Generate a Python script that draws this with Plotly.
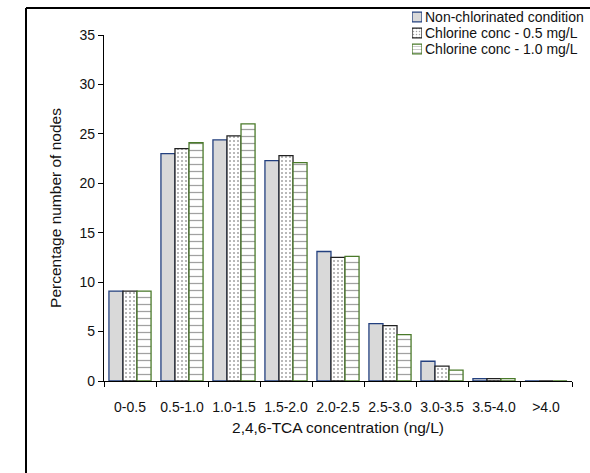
import plotly.graph_objects as go

categories = ["0-0.5", "0.5-1.0", "1.0-1.5", "1.5-2.0", "2.0-2.5", "2.5-3.0", "3.0-3.5", "3.5-4.0", ">4.0"]
non_chlorinated = [9.1, 23.0, 24.4, 22.3, 13.1, 5.8, 2.0, 0.25, 0.0]
chlorine_05 = [9.1, 23.5, 24.8, 22.8, 12.5, 5.6, 1.5, 0.25, 0.0]
chlorine_10 = [9.1, 24.1, 26.0, 22.1, 12.6, 4.7, 1.1, 0.25, 0.0]
series_names = ["Non-chlorinated condition", "Chlorine conc - 0.5 mg/L", "Chlorine conc - 1.0 mg/L"]

W, H = 590, 473
ML, MR, MT, MB = 104, 18, 8, 92
PW = W - ML - MR          # plot width (px)
PH = H - MT - MB          # plotting region height (px)
AXIS_TOP_PX = 35          # top of main y axis (px from top)

def px_x(x):
    return (x - ML) / PW

def px_y(y):
    return (H - MB - y) / PH

styles = [
    dict(color="#d9d9d9", line=dict(color="#23407f", width=1.3)),
    dict(color="white", line=dict(color="#222222", width=1.3),
         pattern=dict(shape=".", fgcolor="#444444", bgcolor="white", size=4, solidity=0.2)),
    dict(color="white", line=dict(color="#4a7a2a", width=1.3),
         pattern=dict(shape="-", fgcolor="#444444", bgcolor="white", size=7, solidity=0.18)),
]
series_values = [non_chlorinated, chlorine_05, chlorine_10]

fig = go.Figure()
for name, vals, st in zip(series_names, series_values, styles):
    fig.add_trace(go.Bar(x=categories, y=vals, name=name, marker=st,
                         showlegend=False, xaxis="x", yaxis="y"))

# legend swatches drawn as small bars on a hidden helper axis
for i, (name, st) in enumerate(zip(series_names, styles)):
    sw = dict(st)
    if "pattern" in sw:
        sw = dict(sw, pattern=dict(sw["pattern"], size=3))
    fig.add_trace(go.Bar(x=[1], y=[i], orientation="h", width=0.6, offsetgroup="leg",
                         marker=sw, showlegend=False, hoverinfo="skip",
                         xaxis="x2", yaxis="y2"))

annotations = []
for i, name in enumerate(series_names):
    annotations.append(dict(text=name, xref="paper", yref="paper",
                            x=px_x(423), y=px_y(17 + 16 * i), xanchor="left", yanchor="middle",
                            showarrow=False, font=dict(size=14, color="#111111")))

fig.update_layout(
    width=W, height=H,
    margin=dict(l=ML, r=MR, t=MT, b=MB, autoexpand=False),
    paper_bgcolor="white", plot_bgcolor="white",
    barmode="group", bargap=0.19, bargroupgap=0.0,
    font=dict(family="Liberation Sans, Arial, sans-serif", size=13, color="#111111"),
    showlegend=False,
    annotations=annotations,
    shapes=[
        dict(type="line", xref="paper", yref="paper", x0=px_x(26), x1=px_x(26), y0=px_y(480), y1=px_y(8),
             line=dict(color="black", width=2)),
        dict(type="line", xref="paper", yref="paper", x0=px_x(26), x1=px_x(592), y0=px_y(8), y1=px_y(8),
             line=dict(color="black", width=2)),
    ],
    xaxis2=dict(domain=[px_x(412), px_x(422)], range=[0, 1], visible=False, fixedrange=True, anchor="y2"),
    yaxis2=dict(domain=[px_y(57), px_y(9)], range=[2.5, -0.5], visible=False, fixedrange=True, anchor="x2"),
)
fig.update_layout(
    xaxis=dict(
        type="category", showline=True, linecolor="black", linewidth=1.3,
        ticks="outside", ticklen=5, tickcolor="black", tickson="boundaries",
        showgrid=False, tickfont=dict(size=14), tickangle=0, ticklabelstandoff=13, anchor="y",
        title=dict(text="2,4,6-TCA concentration (ng/L)", font=dict(size=15.5), standoff=8),
    ),
    yaxis=dict(
        domain=[0, px_y(AXIS_TOP_PX)], anchor="x",
        range=[0, 35], dtick=5, showline=True, linecolor="black", linewidth=1.3,
        ticks="outside", ticklen=5, tickcolor="black", showgrid=False, zeroline=False,
        tickfont=dict(size=14),
        title=dict(text="Percentage number of nodes", font=dict(size=15.5), standoff=14),
    ),
)

fig.write_html("out.html")
